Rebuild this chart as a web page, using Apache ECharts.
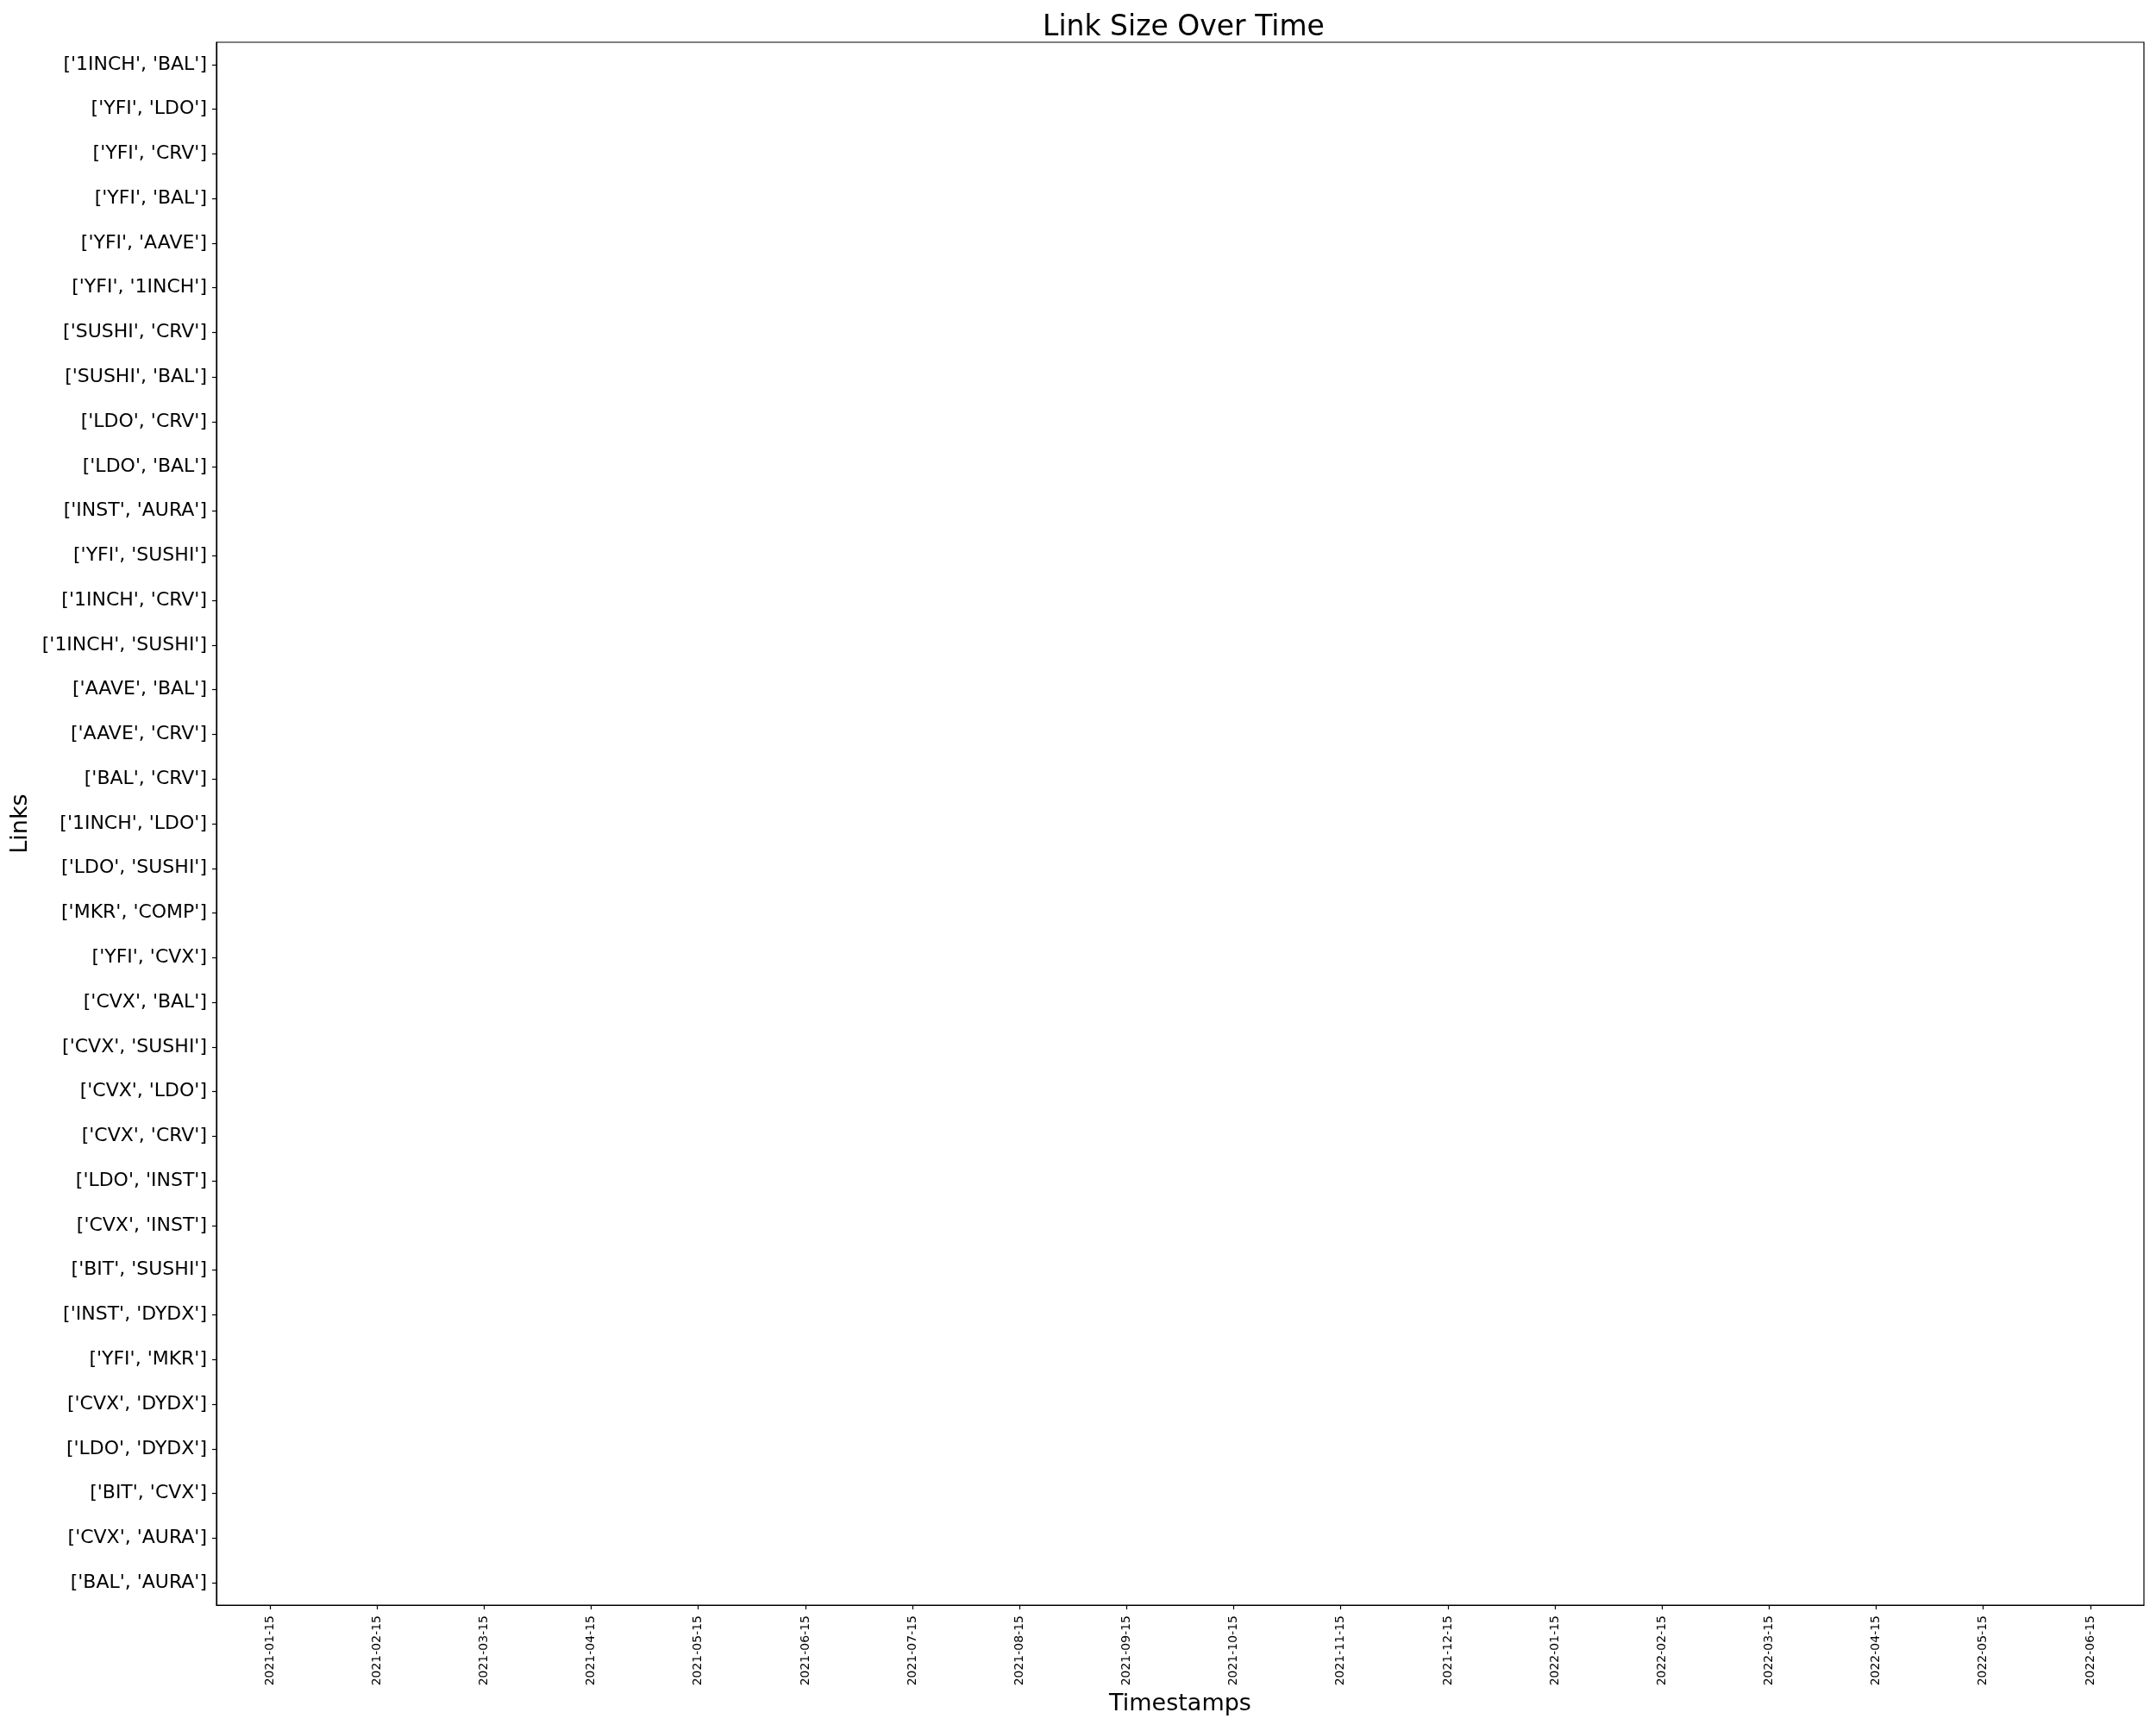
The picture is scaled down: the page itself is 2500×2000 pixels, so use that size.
<!DOCTYPE html>
<html>
<head>
<meta charset="utf-8">
<script src="https://cdn.jsdelivr.net/npm/echarts@6/dist/echarts.min.js"></script>
<style>
html,body{margin:0;padding:0;background:#fff;}
#chart{width:2500px;height:2000px;}
</style>
</head>
<body>
<div id="chart"></div>
<script>
const titleText = 'Link Size Over Time';
const xAxisTitle = 'Timestamps';
const yAxisTitle = 'Links';
const timestamps = [
  '2021-01-15','2021-02-15','2021-03-15','2021-04-15','2021-05-15','2021-06-15',
  '2021-07-15','2021-08-15','2021-09-15','2021-10-15','2021-11-15','2021-12-15',
  '2022-01-15','2022-02-15','2022-03-15','2022-04-15','2022-05-15','2022-06-15'
];
const links = [
  "['1INCH', 'BAL']","['YFI', 'LDO']","['YFI', 'CRV']","['YFI', 'BAL']","['YFI', 'AAVE']",
  "['YFI', '1INCH']","['SUSHI', 'CRV']","['SUSHI', 'BAL']","['LDO', 'CRV']","['LDO', 'BAL']",
  "['INST', 'AURA']","['YFI', 'SUSHI']","['1INCH', 'CRV']","['1INCH', 'SUSHI']","['AAVE', 'BAL']",
  "['AAVE', 'CRV']","['BAL', 'CRV']","['1INCH', 'LDO']","['LDO', 'SUSHI']","['MKR', 'COMP']",
  "['YFI', 'CVX']","['CVX', 'BAL']","['CVX', 'SUSHI']","['CVX', 'LDO']","['CVX', 'CRV']",
  "['LDO', 'INST']","['CVX', 'INST']","['BIT', 'SUSHI']","['INST', 'DYDX']","['YFI', 'MKR']",
  "['CVX', 'DYDX']","['LDO', 'DYDX']","['BIT', 'CVX']","['CVX', 'AURA']","['BAL', 'AURA']"
];
// The reference shows no visible link-size marks: the series is empty.
const linkSizes = [];

const FONT = 'DejaVu Sans';
const chart = echarts.init(document.getElementById('chart'), null, {renderer: 'canvas'});
chart.setOption({
  backgroundColor: '#ffffff',
  animation: false,
  title: {
    text: titleText,
    left: 1204,
    top: 11,
    textStyle: {fontFamily: FONT, fontSize: 33, fontWeight: 'normal', color: '#000'}
  },
  grid: {
    left: 251, right: 14, top: 49, bottom: 139,
    show: true, borderColor: '#000', borderWidth: 1.2, backgroundColor: 'transparent'
  },
  xAxis: {
    type: 'category',
    data: timestamps,
    boundaryGap: true,
    name: xAxisTitle,
    nameLocation: 'middle',
    nameGap: 87,
    nameTextStyle: {fontFamily: FONT, fontSize: 27, color: '#000'},
    axisLine: {show: true, lineStyle: {color: '#000', width: 1.2}},
    axisTick: {show: true, alignWithLabel: true, length: 5, lineStyle: {color: '#000', width: 1.2}},
    axisLabel: {rotate: 90, margin: 12, fontFamily: FONT, fontSize: 14, color: '#000', interval: 0},
    splitLine: {show: false}
  },
  yAxis: {
    type: 'category',
    data: links,
    inverse: true,
    boundaryGap: true,
    name: yAxisTitle,
    nameLocation: 'middle',
    nameRotate: 90,
    nameGap: 204,
    nameTextStyle: {fontFamily: FONT, fontSize: 27, color: '#000'},
    axisLine: {show: true, lineStyle: {color: '#000', width: 1.2}},
    axisTick: {show: true, alignWithLabel: true, length: 5, lineStyle: {color: '#000', width: 1.2}},
    axisLabel: {margin: 11, fontFamily: FONT, fontSize: 22, color: '#000', interval: 0},
    splitLine: {show: false}
  },
  series: [{
    type: 'scatter',
    name: 'Link size',
    data: linkSizes,
    symbolSize: 10
  }]
});
</script>
</body>
</html>
